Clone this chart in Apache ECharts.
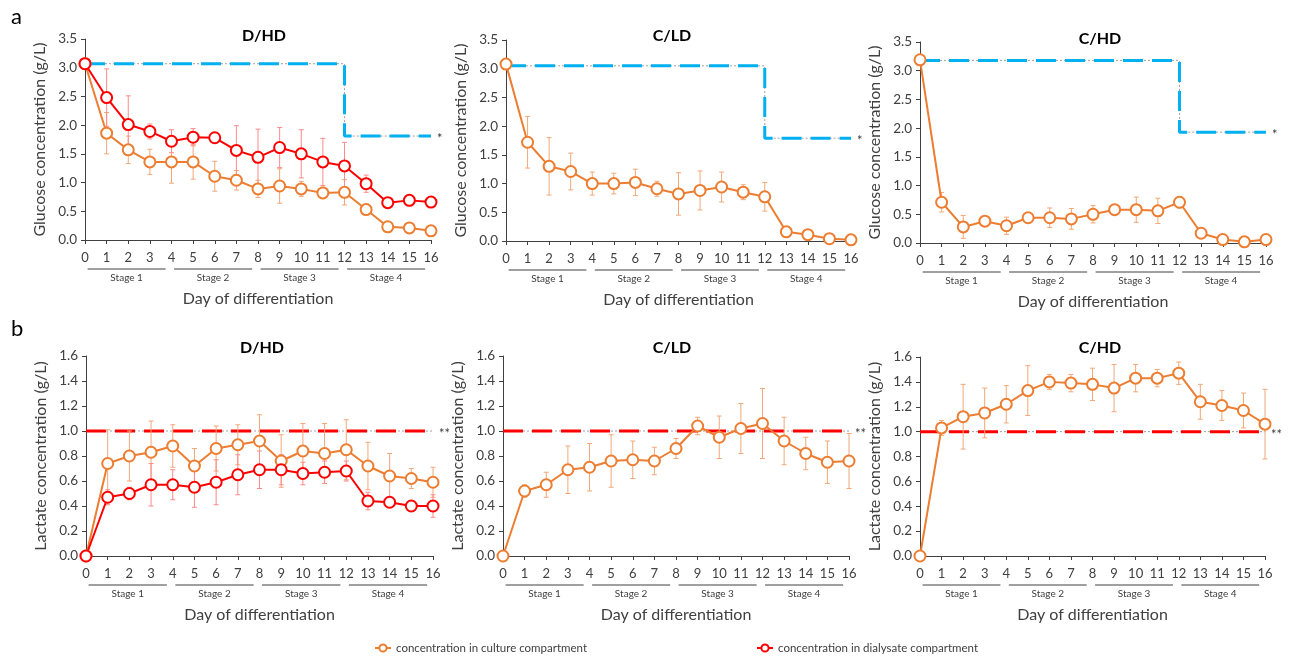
<!DOCTYPE html>
<html><head><meta charset="utf-8">
<script src="https://cdn.jsdelivr.net/npm/echarts@6/dist/echarts.min.js"></script>
<style>html,body{margin:0;padding:0;background:#fff}#c{width:1296px;height:656px}</style>
</head><body><div id="c"></div>
<script>
// ---------- DATA ----------
const days = [0,1,2,3,4,5,6,7,8,9,10,11,12,13,14,15,16];
const stageNames = ['Stage 1','Stage 2','Stage 3','Stage 4'];
const stageStart = [0,4,8,12];
const stageEnd = [4,8,12,16];

// Glucose (g/L)
const gluDHD_culture    = [3.07,1.86,1.57,1.36,1.36,1.36,1.11,1.04,0.89,0.94,0.89,0.82,0.83,0.53,0.23,0.21,0.16];
const gluDHD_cultureErr = [0,0.36,0.24,0.22,0.37,0.30,0.26,0.17,0.15,0.30,0.13,0.10,0.22,0.05,0.03,0.03,0.03];
const gluDHD_dialysate    = [3.07,2.48,2.01,1.89,1.72,1.79,1.78,1.56,1.44,1.61,1.50,1.36,1.29,0.98,0.65,0.69,0.66];
const gluDHD_dialysateErr = [0,0.50,0.50,0.13,0.20,0.15,0.05,0.43,0.49,0.35,0.42,0.41,0.41,0.15,0.03,0.03,0.03];
const gluCLD_culture    = [3.08,1.72,1.30,1.21,1.00,1.00,1.02,0.91,0.82,0.88,0.94,0.85,0.77,0.16,0.11,0.04,0.02];
const gluCLD_cultureErr = [0,0.45,0.50,0.32,0.20,0.18,0.23,0.13,0.37,0.34,0.26,0.13,0.25,0.02,0.02,0.02,0.02];
const gluCHD_culture    = [3.19,0.71,0.28,0.38,0.30,0.44,0.44,0.42,0.50,0.58,0.58,0.56,0.71,0.17,0.06,0.02,0.06];
const gluCHD_cultureErr = [0,0.17,0.20,0.05,0.15,0.05,0.17,0.18,0.15,0.05,0.22,0.22,0.10,0.03,0.02,0.02,0.02];
const gluLimitDays = [0,12,12,16];
const gluDHD_limit = [3.07,3.07,1.81,1.81];
const gluCLD_limit = [3.05,3.05,1.79,1.79];
const gluCHD_limit = [3.18,3.18,1.93,1.93];

// Lactate (g/L)
const lacDHD_culture    = [0,0.74,0.80,0.83,0.88,0.72,0.86,0.89,0.92,0.76,0.84,0.82,0.85,0.72,0.64,0.62,0.59];
const lacDHD_cultureErr = [0,0.27,0.20,0.25,0.17,0.14,0.18,0.16,0.21,0.21,0.22,0.24,0.24,0.19,0.18,0.08,0.12];
const lacDHD_dialysate    = [0,0.47,0.50,0.57,0.57,0.55,0.59,0.65,0.69,0.69,0.66,0.67,0.68,0.44,0.43,0.40,0.40];
const lacDHD_dialysateErr = [0,0.06,0.05,0.17,0.12,0.16,0.18,0.16,0.15,0.12,0.09,0.09,0.08,0.07,0.04,0.04,0.09];
const lacCLD_culture    = [0,0.52,0.57,0.69,0.71,0.76,0.77,0.76,0.86,1.04,0.95,1.02,1.06,0.92,0.82,0.75,0.76];
const lacCLD_cultureErr = [0,0.05,0.10,0.19,0.19,0.21,0.15,0.11,0.08,0.07,0.17,0.20,0.28,0.19,0.13,0.17,0.22];
const lacCHD_culture    = [0,1.03,1.12,1.15,1.22,1.33,1.40,1.39,1.38,1.35,1.43,1.43,1.47,1.24,1.21,1.17,1.06];
const lacCHD_cultureErr = [0,0.06,0.26,0.20,0.15,0.20,0.06,0.07,0.13,0.19,0.11,0.07,0.09,0.14,0.12,0.14,0.28];
const lacLimitDays = [0,16];
const lacLimit = [1.0,1.0];

const titles = ['D/HD','C/LD','C/HD','D/HD','C/LD','C/HD'];
const cultureName = 'concentration in culture compartment';
const dialysateName = 'concentration in dialysate compartment';

// ---------- STYLE / LAYOUT ----------
const FONT = 'Lato';
const TXT = '#404040';
const ORANGE = '#ED7D31', ORANGE_ERR = '#F2A878';
const RED = '#FF0000', RED_ERR = '#FF8A8A';
const BLUE = '#00B0F0';

const panels = [
  {left:85,  width:346, top:39,  height:201, kind:'glu', culture:gluDHD_culture, cErr:gluDHD_cultureErr, dial:gluDHD_dialysate, dErr:gluDHD_dialysateErr, limX:gluLimitDays, limY:gluDHD_limit, star:'*'},
  {left:506, width:345, top:40,  height:201, kind:'glu', culture:gluCLD_culture, cErr:gluCLD_cultureErr, limX:gluLimitDays, limY:gluCLD_limit, star:'*'},
  {left:920, width:346, top:42,  height:201, kind:'glu', culture:gluCHD_culture, cErr:gluCHD_cultureErr, limX:gluLimitDays, limY:gluCHD_limit, star:'*'},
  {left:86,  width:347, top:356, height:200, kind:'lac', culture:lacDHD_culture, cErr:lacDHD_cultureErr, dial:lacDHD_dialysate, dErr:lacDHD_dialysateErr, limX:lacLimitDays, limY:lacLimit, star:'**'},
  {left:503, width:346, top:356, height:200, kind:'lac', culture:lacCLD_culture, cErr:lacCLD_cultureErr, limX:lacLimitDays, limY:lacLimit, star:'**'},
  {left:920, width:345, top:357, height:199, kind:'lac', culture:lacCHD_culture, cErr:lacCHD_cultureErr, limX:lacLimitDays, limY:lacLimit, star:'**'}
];

function errRender(params, api){
  const x = api.value(0), y = api.value(1), e = api.value(2);
  if (!e) return null;
  const t = api.coord([x, y + e]), b = api.coord([x, y - e]);
  const cap = 2.5;
  const style = {stroke: api.visual('color'), lineWidth: 1};
  return {type:'group', children:[
    {type:'line', shape:{x1:t[0], y1:t[1], x2:b[0], y2:b[1]}, style},
    {type:'line', shape:{x1:t[0]-cap, y1:t[1], x2:t[0]+cap, y2:t[1]}, style},
    {type:'line', shape:{x1:b[0]-cap, y1:b[1], x2:b[0]+cap, y2:b[1]}, style}
  ]};
}
function stageRender(params, api){
  const s = api.value(0), e = api.value(1);
  const p1 = api.coord([s + 0.12, 0]), p2 = api.coord([e - 0.27, 0]);
  const yL = p1[1] + 29;
  return {type:'group', children:[
    {type:'line', shape:{x1:p1[0], y1:yL, x2:p2[0], y2:yL}, style:{stroke:TXT, lineWidth:1}},
    {type:'text', x:(p1[0]+p2[0])/2, y:yL + 9, style:{text:stageNames[params.dataIndex], fontSize:10, fill:TXT, align:'center', verticalAlign:'middle', fontFamily:FONT}}
  ]};
}

const grid = [], xAxis = [], yAxis = [], series = [], graphic = [];
panels.forEach((p, i) => {
  grid.push({left:p.left, top:p.top, width:p.width, height:p.height, containLabel:false, outerBoundsMode:'none'});
  xAxis.push({type:'value', gridIndex:i, min:0, max:16, interval:1,
    name:'Day of differentiation', nameLocation:'middle', nameGap:51,
    nameTextStyle:{fontSize:16, color:TXT, fontFamily:FONT},
    axisLine:{lineStyle:{color:TXT, width:1}}, axisTick:{show:true, length:4, lineStyle:{color:TXT}},
    axisLabel:{fontSize:13, color:TXT, margin:11, fontFamily:FONT}, splitLine:{show:false}});
  const glu = p.kind === 'glu';
  yAxis.push({type:'value', gridIndex:i, min:0, max: glu ? 3.5 : 1.6, interval: glu ? 0.5 : 0.2,
    name: glu ? 'Glucose concentration (g/L)' : 'Lactate concentration (g/L)',
    nameLocation:'middle', nameGap:37, nameRotate:90,
    nameTextStyle:{fontSize:16, color:TXT, fontFamily:FONT},
    axisLine:{show:true, lineStyle:{color:TXT, width:1}}, axisTick:{show:true, length:4, lineStyle:{color:TXT}},
    axisLabel:{fontSize:13.5, color:TXT, margin:8, fontFamily:FONT, formatter:v => v.toFixed(1)},
    splitLine:{show:false}});

  const limData = p.limX.map((x, k) => [x, p.limY[k]]);
  const limColor = glu ? BLUE : RED;
  series.push({type:'line', xAxisIndex:i, yAxisIndex:i, data:limData, symbol:'none', silent:true, z:1,
    lineStyle:{color:'#a0a0a0', width:1, type:[2,2]},
    endLabel:{show:true, formatter:p.star, color:TXT, fontSize:13, distance:6, fontFamily:FONT, offset:[0,3]}});
  series.push({type:'line', xAxisIndex:i, yAxisIndex:i, data:limData, symbol:'none', silent:true, z:2,
    lineStyle:{color:limColor, width:3, type:[20,9]}});

  series.push({type:'custom', xAxisIndex:i, yAxisIndex:i, renderItem:stageRender, silent:true, clip:false,
    data:stageStart.map((s, k) => [s, stageEnd[k]])});

  const addSeries = (name, vals, errs, color, errColor) => {
    series.push({type:'custom', xAxisIndex:i, yAxisIndex:i, renderItem:errRender, silent:true, z:3,
      itemStyle:{color:errColor}, data:days.map((d, k) => [d, vals[k], errs[k]])});
    series.push({type:'line', name, xAxisIndex:i, yAxisIndex:i, z:5,
      data:days.map((d, k) => [d, vals[k]]),
      symbol:'circle', symbolSize:11, showAllSymbol:true,
      lineStyle:{color, width:2}, itemStyle:{color:'#fff', borderColor:color, borderWidth:2}});
  };
  addSeries(cultureName, p.culture, p.cErr, ORANGE, ORANGE_ERR);
  if (p.dial) addSeries(dialysateName, p.dial, p.dErr, RED, RED_ERR);
});

const titlePos = [[264,36],[672,36],[1100,39],[262,348],[672,348],[1100,348]];
titles.forEach((t, i) => graphic.push({type:'text', x:titlePos[i][0], y:titlePos[i][1],
  style:{text:t, fontSize:16, fontWeight:'bold', fill:'#000', align:'center', verticalAlign:'middle', fontFamily:FONT}}));
graphic.push({type:'text', x:11, y:6, style:{text:'a', fontSize:22, fill:'#000', fontFamily:FONT}});
graphic.push({type:'text', x:11, y:318, style:{text:'b', fontSize:22, fill:'#000', fontFamily:FONT}});

const chart = echarts.init(document.getElementById('c'), null, {renderer:'canvas'});
chart.setOption({
  animation:false,
  backgroundColor:'#fff',
  textStyle:{fontFamily:FONT},
  grid, xAxis, yAxis, series, graphic,
  legend:[
    {data:[cultureName], left:369, top:637, itemWidth:16, itemHeight:9, itemGap:10,
     textStyle:{fontSize:11.5, color:TXT, fontFamily:FONT}},
    {data:[dialysateName], left:751, top:637, itemWidth:16, itemHeight:9, itemGap:10,
     textStyle:{fontSize:11.5, color:TXT, fontFamily:FONT}}
  ]
});
</script></body></html>
